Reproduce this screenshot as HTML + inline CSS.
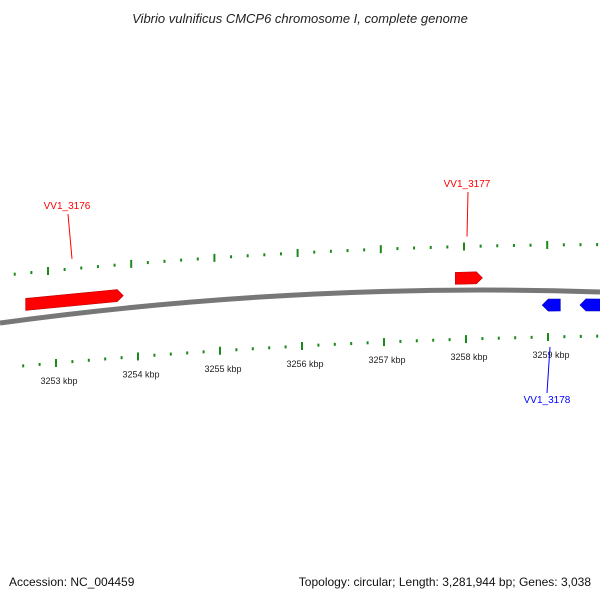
<!DOCTYPE html>
<html><head><meta charset="utf-8"><style>
body{margin:0;background:#fff;font-family:"Liberation Sans","DejaVu Sans",sans-serif}
svg{display:block}
</style></head><body>
<svg id="c" width="600" height="600">
<text x="300" y="23" text-anchor="middle" font-size="13" font-style="italic" fill="#222">Vibrio vulnificus CMCP6 chromosome I, complete genome</text>
<text x="9" y="586" font-size="12" fill="#111">Accession: NC_004459</text>
<text x="591" y="586" text-anchor="end" font-size="12" fill="#111">Topology: circular; Length: 3,281,944 bp; Genes: 3,038</text>
<defs>
<linearGradient id="bb" x1="0" y1="0" x2="0" y2="1"><stop offset="0" stop-color="#aaa"/><stop offset="0.5" stop-color="#777"/><stop offset="1" stop-color="#555"/></linearGradient>
</defs>
<path d="M0,323 Q300,282 600,292" stroke="#777" stroke-width="5" fill="none"/>
<g id="g"></g>
</svg>
<script>
const majorTicks=[3253,3254,3255,3256,3257,3258,3259];
const genes=[
 {name:"VV1_3176",start:3252.63,end:3253.82,strand:1,label:true},
 {name:"VV1_3177",start:3257.87,end:3258.20,strand:1,label:true},
 {name:"VV1_3178",start:3258.93,end:3259.15,strand:-1,label:true},
 {name:"VV1_3179",start:3259.39,end:3259.75,strand:-1,label:false}
];
const NS="http://www.w3.org/2000/svg";
const g=document.getElementById('g');
function xs(k){return 56+(k-3253)*82;}
function quad(p){ // fit y through 3 points
  const [[x0,y0],[x1,y1],[x2,y2]]=p;
  return x=>y0*((x-x1)*(x-x2))/((x0-x1)*(x0-x2))+y1*((x-x0)*(x-x2))/((x1-x0)*(x1-x2))+y2*((x-x0)*(x-x1))/((x2-x0)*(x2-x1));
}
const upY=quad([[48,271],[297,253],[547,245]]);
const loY=quad([[56,363],[302,346],[548,337]]);
const bbY=quad([[0,322],[300,299],[600,292]]);
function ux(k){return 48+(k-3253)*83.2;}
function el(t,a){const e=document.createElementNS(NS,t);for(const k in a)e.setAttribute(k,a[k]);g.appendChild(e);return e;}
// ticks
for(let k=3252.6;k<=3259.7;k+=0.2){
  const kk=Math.round(k*5)/5, major=Math.abs(kk-Math.round(kk))<0.01;
  let x=ux(kk); if(x>=8&&x<=600){
    const y=upY(x);
    const t=el('rect',{x:x-1,y:major?y-4:y-1.5,width:2,height:major?8:3,fill:'#1a8a1a'});
    
    
  }
  x=xs(kk); if(x>=4&&x<=600){
    const y=loY(x);
    const t=el('rect',{x:x-1,y:major?y-4:y-1.5,width:2,height:major?8:3,fill:'#1a8a1a'});
    
    
  }
}
majorTicks.forEach(k=>{
  const x=xs(k);
  const t=el('text',{x:x+3,y:loY(x)+21,'font-size':'9','text-anchor':'middle',fill:'#222'});
  t.textContent=k+' kbp';
  
  
});
genes.forEach(gn=>{
  const x1=xs(gn.start),x2=Math.min(xs(gn.end),606);
  const col=gn.strand>0?'#f00':'#00f', dk=gn.strand>0?'#b00':'#00b';
  const off=gn.strand>0?-21:7, h=12;
  const y1=bbY(x1)+off,y2=bbY(x2)+off,hd=6;
  let d;
  if(gn.strand>0) d=`M${x1},${y1} L${x2-hd},${y2} L${x2},${y2+h/2} L${x2-hd},${y2+h} L${x1},${y1+h} Z`;
  else d=`M${x1+hd},${y1} L${x2},${y2} L${x2},${y2+h} L${x1+hd},${y1+h} L${x1},${y1+h/2} Z`;
  const p=el('path',{d,fill:col,stroke:dk,'stroke-width':'0.6'});
  
  
  if(gn.label){
    const mx=(x1+x2)/2;
    if(gn.strand>0){
      const ly=gn.name==="VV1_3176"?205:183;
      const lx=gn.name==="VV1_3176"?67:467;
      const tx=gn.name==="VV1_3176"?72:467;
      const ln=el('line',{x1:lx+1,y1:ly+9,x2:tx,y2:upY(tx)-10,stroke:col,'stroke-width':1});
      
      
      const t=el('text',{x:lx,y:ly+4,'font-size':'10','text-anchor':'middle',fill:col});
      t.textContent=gn.name;
      
      
    } else {
      const ln=el('line',{x1:550,y1:347,x2:547,y2:393,stroke:col,'stroke-width':1});
      
      
      const t=el('text',{x:547,y:403,'font-size':'10','text-anchor':'middle',fill:col});
      t.textContent=gn.name;
      
      
    }
  }
});
</script>
</body></html>
